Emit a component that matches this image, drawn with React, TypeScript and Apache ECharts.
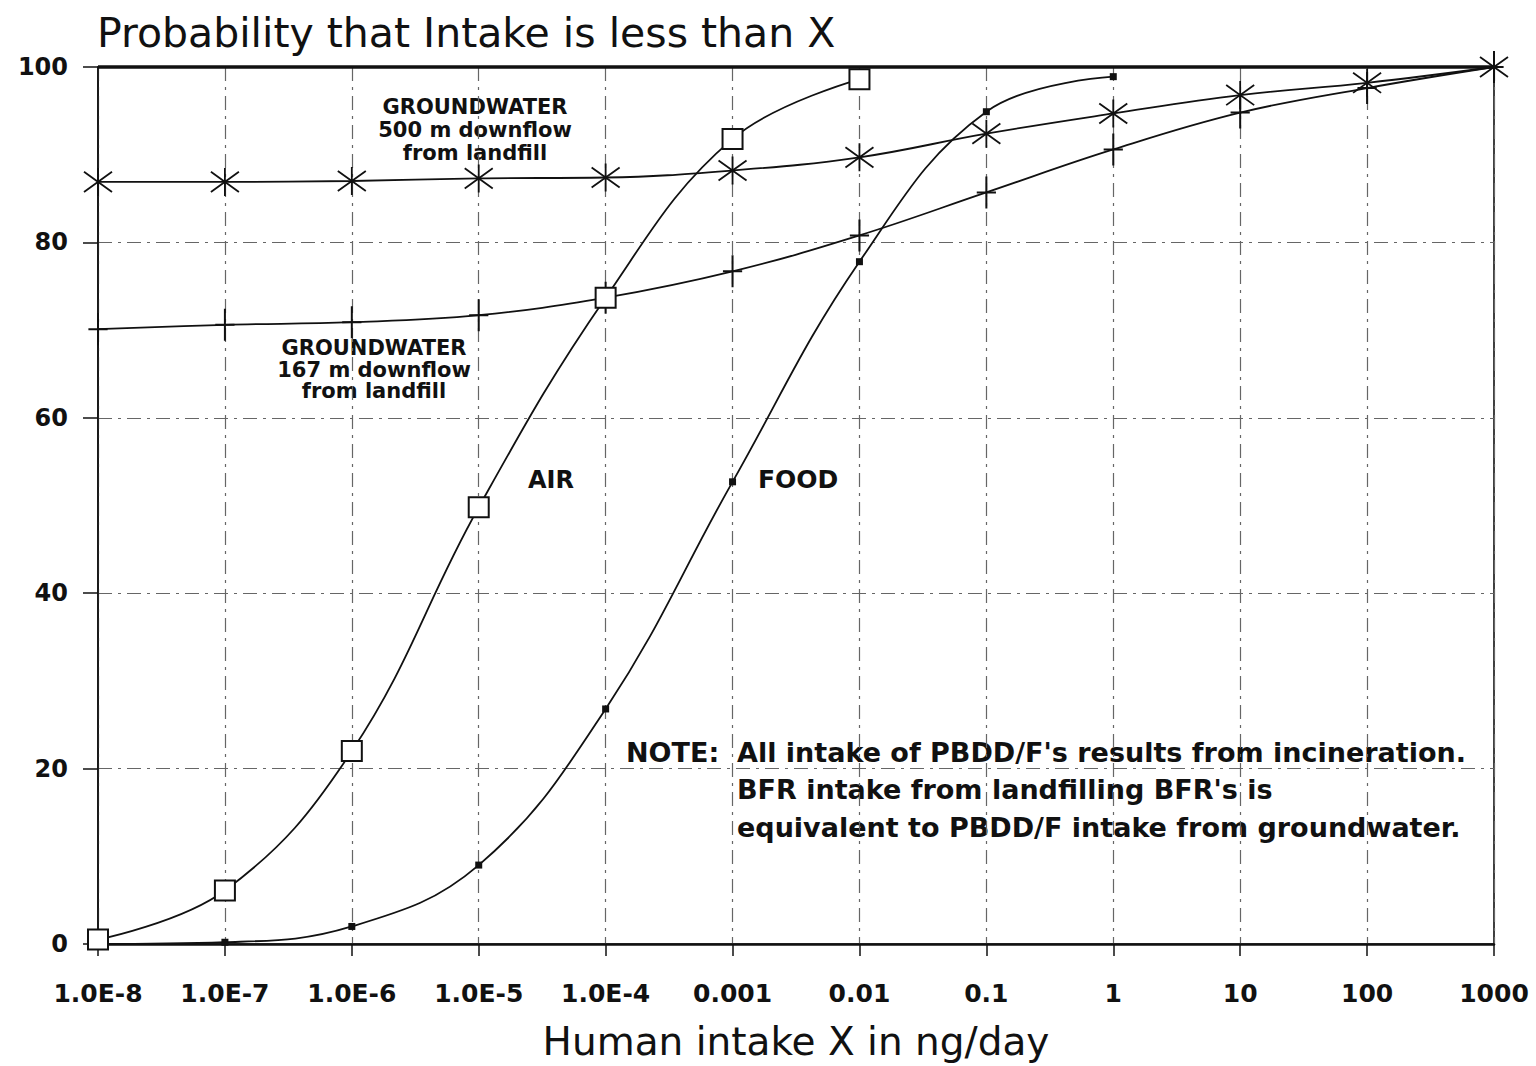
import React, { useEffect, useRef } from "react";
import * as echarts from "echarts";

const xValues = [1e-8, 1e-7, 1e-6, 1e-5, 1e-4, 0.001, 0.01, 0.1, 1, 10, 100, 1000];
const xTickLabels = ["1.0E-8", "1.0E-7", "1.0E-6", "1.0E-5", "1.0E-4", "0.001", "0.01", "0.1", "1", "10", "100", "1000"];
const airValues = [0.5, 6.1, 22, 49.8, 73.7, 91.8, 98.6];
const foodValues = [0, 0.2, 2, 9, 26.8, 52.7, 77.8, 94.9, 98.9];
const gw500Values = [86.9, 86.9, 87, 87.3, 87.4, 88.2, 89.7, 92.4, 94.7, 96.8, 98.2, 100];
const gw167Values = [70.1, 70.6, 70.9, 71.7, 73.7, 76.7, 80.8, 85.7, 90.6, 94.8, 97.6, 100];

const titleText = "Probability that Intake is less than X";
const xAxisName = "Human intake X in ng/day";
const gw500Label = ["GROUNDWATER", "500 m downflow", "from landfill"];
const gw167Label = ["GROUNDWATER", "167 m downflow", "from landfill"];
const noteHead = "NOTE:";
const noteLines = [
  "All intake of PBDD/F's results from incineration.",
  "BFR intake from landfilling BFR's is",
  "equivalent to PBDD/F intake from groundwater.",
];

const FONT = '"DejaVu Sans", "Liberation Sans", sans-serif';

const pairs = (vals: number[]) => vals.map((v, i) => [xValues[i], v]);

const ASTERISK = "path://M50 0 L50 100 M14 14 L86 86 M14 86 L86 14";
const PLUS = "path://M50 0 L50 100 M20 50 L80 50";

export default function App() {
  const ref = useRef<HTMLDivElement>(null);
  useEffect(() => {
    if (!ref.current) return;
    const chart = echarts.init(ref.current, undefined, { renderer: "svg" });
    const gridLine = { show: true, lineStyle: { color: "#666", width: 1.2, type: [14, 6, 3, 6] } };
    const lineBase = {
      type: "line",
      smooth: 0.4,
      lineStyle: { color: "#111", width: 1.8 },
      emphasis: { disabled: true },
    };
    const textEl = (text: string, x: number, y: number, size: number, align = "center") => ({
      type: "text",
      x,
      y,
      silent: true,
      style: {
        text,
        fill: "#111",
        fontFamily: FONT,
        fontWeight: "bold",
        fontSize: size,
        textAlign: align,
        textVerticalAlign: "middle",
        verticalAlign: "middle",
      },
    });
    const graphics: any[] = [];
    gw500Label.forEach((t, i) => graphics.push(textEl(t, 475, 107 + i * 23, 21)));
    gw167Label.forEach((t, i) => graphics.push(textEl(t, 374, 348 + i * 21.5, 21)));
    graphics.push(textEl("AIR", 528, 480, 24, "left"));
    graphics.push(textEl("FOOD", 758, 479, 25, "left"));
    graphics.push(textEl(noteHead, 626, 752, 27, "left"));
    noteLines.forEach((t, i) => graphics.push(textEl(t, 737, 752 + i * 37.5, 27, "left")));
    graphics.push({
      type: "text",
      x: 97,
      y: 33,
      silent: true,
      style: {
        text: titleText,
        fill: "#111",
        fontFamily: FONT,
        fontSize: 41,
        textAlign: "left",
        textVerticalAlign: "middle",
        verticalAlign: "middle",
      },
    });

    chart.setOption({
      animation: false,
      backgroundColor: "#fff",
      grid: {
        left: 98,
        right: 42,
        top: 67,
        bottom: 115,
        show: true,
        borderColor: "#111",
        borderWidth: 1.6,
        backgroundColor: "transparent",
      },
      xAxis: {
        type: "log",
        logBase: 10,
        min: 1e-8,
        max: 1000,
        interval: 1,
        name: xAxisName,
        nameLocation: "middle",
        nameGap: 78,
        nameTextStyle: { fontFamily: FONT, fontSize: 39, color: "#111" },
        axisLine: { show: true, lineStyle: { color: "#111", width: 2.5 } },
        axisTick: { show: true, inside: false, length: 12, lineStyle: { color: "#111", width: 1.5 } },
        axisLabel: {
          margin: 37,
          fontFamily: FONT,
          fontWeight: "bold",
          fontSize: 25,
          color: "#111",
          formatter: (v: number) => xTickLabels[Math.round(Math.log10(v)) + 8] ?? "",
        },
        splitLine: gridLine,
        minorTick: { show: false },
      },
      yAxis: {
        type: "value",
        min: 0,
        max: 100,
        interval: 20,
        axisLine: { show: true, lineStyle: { color: "#111", width: 1.6 } },
        axisTick: { show: true, inside: false, length: 15, lineStyle: { color: "#111", width: 1.5 } },
        axisLabel: {
          margin: 30,
          fontFamily: FONT,
          fontWeight: "bold",
          fontSize: 24,
          color: "#111",
        },
        splitLine: gridLine,
      },
      series: [
        {
          ...lineBase,
          name: "Groundwater 500 m",
          data: pairs(gw500Values),
          symbol: ASTERISK,
          symbolSize: 28,
          itemStyle: { color: "#111", borderColor: "#111", borderWidth: 1.8 },
          markLine: {
            silent: true,
            symbol: "none",
            label: { show: false },
            lineStyle: { color: "#111", width: 3.5, type: "solid" },
            data: [{ yAxis: 100 }],
          },
          z: 3,
        },
        {
          ...lineBase,
          name: "Groundwater 167 m",
          data: pairs(gw167Values),
          symbol: PLUS,
          symbolSize: 32,
          symbolKeepAspect: true,
          itemStyle: { color: "#111", borderColor: "#111", borderWidth: 2 },
          z: 3,
        },
        {
          ...lineBase,
          name: "Food",
          data: pairs(foodValues),
          symbol: "rect",
          symbolSize: 7,
          itemStyle: { color: "#111", borderColor: "#111", borderWidth: 0 },
          z: 4,
        },
        {
          ...lineBase,
          name: "Air",
          data: pairs(airValues),
          symbol: "emptyRect",
          symbolSize: 20,
          itemStyle: { color: "#111", borderColor: "#111", borderWidth: 1.6 },
          z: 5,
        },
      ],
      graphic: graphics,
    });
    return () => chart.dispose();
  }, []);
  return (
    <div
      ref={ref}
      style={{ position: "absolute", left: 0, top: 0, width: 1536, height: 1066, background: "#fff" }}
    />
  );
}
